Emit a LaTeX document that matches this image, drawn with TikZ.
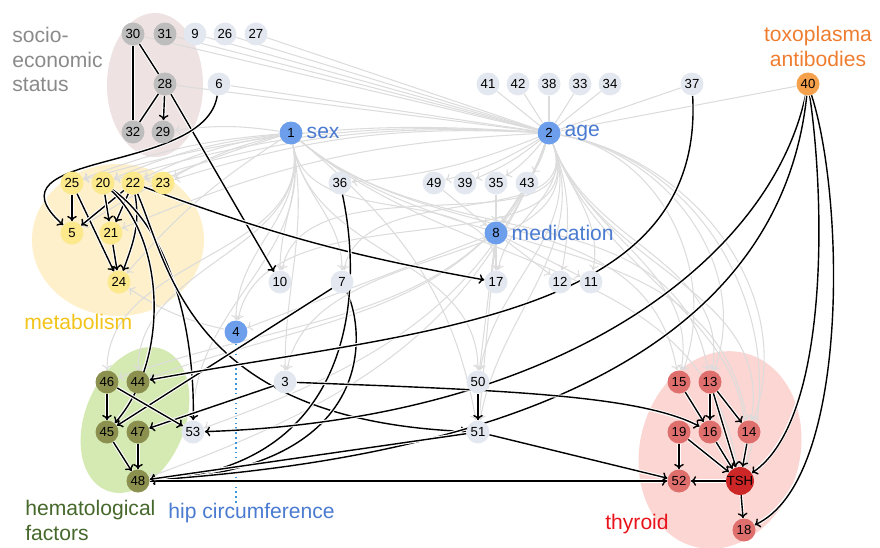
\documentclass[tikz,border=0pt]{standalone}
\usepackage{fontspec}
\setmainfont{Liberation Sans}
\usetikzlibrary{backgrounds, arrows.meta}
\definecolor{varfill}{HTML}{E3E8F0}
\definecolor{socfill}{HTML}{BDBDBD}
\definecolor{metfill}{HTML}{FBE98C}
\definecolor{hemfill}{HTML}{8B904F}
\definecolor{thyfill}{HTML}{DF6F6D}
\definecolor{tshfill}{HTML}{CC2626}
\definecolor{keyfill}{HTML}{6D9EEB}
\definecolor{toxfill}{HTML}{F5A14C}
\definecolor{socarea}{HTML}{EEE2E2}
\definecolor{metarea}{HTML}{FDF0CA}
\definecolor{hemarea}{HTML}{D5EAB3}
\definecolor{thyarea}{HTML}{FBD6D3}
\definecolor{soctext}{HTML}{8A8A8A}
\definecolor{mettext}{HTML}{F2C419}
\definecolor{hemtext}{HTML}{46682B}
\definecolor{thytext}{HTML}{E8141B}
\definecolor{toxtext}{HTML}{EE7D30}
\definecolor{keytext}{HTML}{4A7BD0}
\definecolor{edgegray}{HTML}{DCDCDC}
\tikzset{
  >={To[length=3pt, width=5.5pt]},
  var/.style={circle, fill=varfill, minimum size=0.46cm, inner sep=0pt, font=\fontsize{7.5}{8}\selectfont},
  soc/.style={var, fill=socfill},
  met/.style={var, fill=metfill},
  hem/.style={var, fill=hemfill},
  thy/.style={var, fill=thyfill},
  key/.style={var, fill=keyfill},
  grouplabel/.style={font=\fontsize{12}{14}\selectfont, align=left, inner sep=0pt},
  gline/.style={draw=edgegray, line width=0.6pt},
  gedge/.style={gline, ->},
  bedge/.style={draw=black, line width=0.8pt, ->, preaction={draw=white, line width=2pt, -}},
  bline/.style={bedge, -},
}
\begin{document}
\begin{tikzpicture}[x=0.02cm, y=-0.02cm]
\useasboundingbox (0,0) rectangle (880,548);
% socio-economic status
\draw (133,34) node[soc](v30) {30} ;
\draw (165,34) node[soc](v31) {31} ;
  \draw (195,34) node[var](v9) {9} ;
  \draw (225,34) node[var](v26) {26} ;
  \draw (256,34) node[var](v27) {27} ;
\draw (165,84) node[soc](v28) {28} ;
  \draw (219,84) node[var](v6) {6} ;
\draw (133,132) node[soc](v32) {32} ;
\draw (163,132) node[soc](v29) {29} ;
% sex, age and their row
\draw (291,133) node[key](v1) {1} ;
\draw (549,133) node[key](v2) {2} ;
  \draw (488,84) node[var](v41) {41} ;
  \draw (518,84) node[var](v42) {42} ;
  \draw (549,84) node[var](v38) {38} ;
  \draw (580,84) node[var](v33) {33} ;
  \draw (610,84) node[var](v34) {34} ;
  \draw (692,84) node[var](v37) {37} ;
\draw (808,84) node[var, fill=toxfill](v40) {40} ;
% metabolism
\draw (72,183) node[met](v25) {25} ;
\draw (103,183) node[met](v20) {20} ;
\draw (133,183) node[met](v22) {22} ;
\draw (163,183) node[met](v23) {23} ;
  \draw (72,233) node[met](v5) {5} ;
  \draw (111,233) node[met](v21) {21} ;
    \draw (119,282) node[met](v24) {24} ;
% middle
\draw (340,183) node[var](v36) {36} ;
\draw (434,183) node[var](v49) {49} ;
\draw (465,183) node[var](v39) {39} ;
\draw (496,183) node[var](v35) {35} ;
\draw (527,183) node[var](v43) {43} ;
  \draw (496,233) node[key](v8) {8} ;
\draw (280,282) node[var](v10) {10} ;
\draw (342,282) node[var](v7) {7} ;
\draw (496,282) node[var](v17) {17} ;
\draw (560,282) node[var](v12) {12} ;
\draw (591,282) node[var](v11) {11} ;
  \draw (236,332) node[key](v4) {4} ;
\draw (285,382) node[var](v3) {3} ;
\draw (478,382) node[var](v50) {50} ;
\draw (193,432) node[var](v53) {53} ;
\draw (478,432) node[var](v51) {51} ;
% hematological factors
\draw (107,382) node[hem](v46) {46} ;
\draw (138,382) node[hem](v44) {44} ;
  \draw (107,432) node[hem](v45) {45} ;
  \draw (138,432) node[hem](v47) {47} ;
    \draw (138,481) node[hem](v48) {48} ;
% thyroid
\draw (679,382) node[thy](v15) {15} ;
\draw (710,382) node[thy](v13) {13} ;
  \draw (679,432) node[thy](v19) {19} ;
  \draw (710,432) node[thy](v16) {16} ;
  \draw (749,432) node[thy](v14) {14} ;
    \draw (679,481) node[thy](v52) {52} ;
    \draw (740,481) node[var, fill=tshfill](vTSH) {TSH} ;
      \draw (744,530) node[thy](v18) {18} ;
% labels
\node[grouplabel, text=soctext, anchor=north west] (lsoc) at (12,27) {socio-\\economic\\status};
\node[grouplabel, text=toxtext, align=center, anchor=north] (ltox) at (818,26) {toxoplasma\\antibodies};
\node[grouplabel, text=keytext, anchor=west] (lsex) at (v1.east) [xshift=2pt] {sex};
\node[grouplabel, text=keytext, anchor=west] (lage) at (v2.east) [xshift=2pt] {age};
\node[grouplabel, text=keytext, anchor=west] (lmed) at (v8.east) [xshift=2pt] {medication};
\node[grouplabel, text=mettext, anchor=west] (lmet) at (24,322) {metabolism};
\node[grouplabel, text=hemtext, anchor=north west] (lhem) at (25,500) {hematological\\factors};
\node[grouplabel, text=keytext, anchor=west] (lhip) at (168,513) {hip circumference};
\node[grouplabel, text=thytext, anchor=west] (lthy) at (605,524) {thyroid};
\begin{pgfonlayer}{background}
% group areas
\fill[socarea] (155,85) ellipse [x radius=48, y radius=72];
\fill[metarea] (118,240) ellipse [x radius=86, y radius=76];
\fill[hemarea, rotate around={-22:(135,420)}] (135,420) ellipse [x radius=50, y radius=76];
\fill[thyarea, rotate around={-15:(720,450)}] (720,450) ellipse [x radius=80, y radius=100];
% grey edges
\foreach \v in {v30,v31,v9,v26,v27,v28,v6,v41,v42,v38,v33,v34,v37,v40}
  \draw[gline] (\v) -- (v2) ;
\foreach \v in {v29,v25,v20,v22,v23,v5,v24}
  \draw[gedge] (v1) to[bend right=8] (\v) ;
\foreach \v in {v25,v20,v22,v23,v21}
  \draw[gedge] (v2) to[bend right=10] (\v) ;
\foreach \v in {v36,v49,v39,v35,v43,v8}
  \draw[gedge] (v2) to[bend left=8] (\v) ;
\foreach \v in {v10,v7,v4,v3,v50,v53,v44,v46,v17}
  \draw[gedge] (v1) to[out=-80,in=90] (\v) ;
\foreach \v in {v15,v13,v14,vTSH,v51}
  \draw[gedge] (v1) to[out=-40,in=100] (\v) ;
\foreach \v in {v17,v12,v11,v50,v51,v15,v13,v14,vTSH,v4,v3,v10,v7}
  \draw[gedge] (v2) to[out=-70,in=80] (\v) ;
\foreach \v in {v15,v13,v14,vTSH}
  \draw[gedge] (v2) to[out=-10,in=70] (\v) ;
\foreach \v in {v46,v44,v48,v53}
  \draw[gedge] (v2) to[out=-110,in=20] (\v) ;
\foreach \v in {v49,v35,v43}
  \draw[gedge] (\v) -- (v8) ;
\foreach \v in {v17,v12,v11,v4,v50,v51}
  \draw[gedge] (v8) -- (\v) ;
\draw[gedge] (v4) to[bend left=10] (v24) ;
% hip circumference
\draw[keytext!80!cyan, dotted, line width=0.8pt] (v4) -- (lhip.north -| v4) ;
% black edges
\draw[bline] (v30) -- (v32) ;
\draw[bline] (v30) -- (v28) ;
\draw[bline] (v28) -- (v32) ;
\draw[bedge] (v28) -- (v29) ;
\draw[bedge] (v28) -- (v10) ;
\draw[bedge] (v6) .. controls (205,175) and (-20,150) .. (v5) ;
\draw[bedge] (v25) -- (v5) ;
\draw[bedge] (v25) -- (v24) ;
\draw[bedge] (v22) -- (v5) ;
\draw[bedge] (v20) -- (v21) ;
\draw[bedge] (v22) -- (v21) ;
\draw[bedge] (v21) -- (v24) ;
\draw[bedge] (v22) to[out=-80,in=70] (v24) ;
\draw[bedge] (v22) to[bend right=5] (v17) ;
\draw[bedge] (v20) .. controls (170,230) and (195,330) .. (v53) ;
\draw[bedge] (v20) .. controls (165,240) and (170,360) .. (v45) ;
\draw[bedge] (v22) .. controls (170,270) and (190,420) .. (v51) ;
\draw[bedge] (v7) -- (v45) ;
\draw[bedge] (v7) .. controls (365,330) and (380,470) .. (v48) ;
\draw[bedge] (v36) .. controls (365,300) and (350,470) .. (v48) ;
\draw[bedge] (v37) .. controls (705,320) and (420,330) .. (v44) ;
\draw[bedge] (v40) .. controls (770,260) and (560,420) .. (v53) ;
\draw[bedge] (v40) .. controls (785,300) and (600,450) .. (v48) ;
\draw[bedge] (v40) .. controls (825,200) and (830,420) .. (vTSH) ;
\draw[bedge] (v40) .. controls (845,200) and (850,480) .. (v18) ;
\draw[bedge] (v3) -- (v47) ;
\draw[bedge] (v3) .. controls (500,390) and (640,395) .. (v16) ;
\draw[bedge] (v46) -- (v45) ;
\draw[bedge] (v46) -- (v53) ;
\draw[bedge] (v45) -- (v48) ;
\draw[bedge] (v47) -- (v48) ;
\draw[bedge] (v48) -- (v52) ;
\draw[bedge] (v50) -- (v51) ;
\draw[bedge] (v51) -- (v52) ;
\draw[bedge] (v51) -- (v48) ;
\draw[bedge] (v15) -- (v16) ;
\draw[bedge] (v13) -- (v16) ;
\draw[bedge] (v13) -- (v14) ;
\draw[bedge] (v13) -- (vTSH) ;
\draw[bedge] (v19) -- (v52) ;
\draw[bedge] (v19) -- (vTSH) ;
\draw[bedge] (v16) -- (vTSH) ;
\draw[bedge] (v14) -- (vTSH) ;
\draw[bedge] (vTSH) -- (v52) ;
\draw[bedge] (vTSH) -- (v18) ;
\end{pgfonlayer}
\end{tikzpicture}
\end{document}
